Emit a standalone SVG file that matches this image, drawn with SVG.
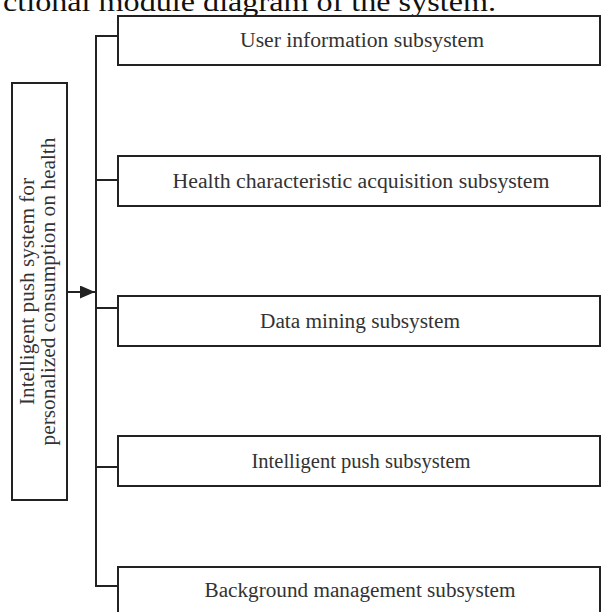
<svg xmlns="http://www.w3.org/2000/svg" width="602" height="612" viewBox="0 0 602 612">
<style>
.box{fill:#fff;stroke:#222;stroke-width:2}
.conn{fill:none;stroke:#222;stroke-width:2}
.lbl{font-family:"Liberation Serif","Times New Roman",serif;font-size:20px;fill:#333;text-anchor:middle}
.cap{font-family:"Liberation Serif","Times New Roman",serif;font-size:28px;fill:#111}
</style>
<defs>
<marker id="arr" markerWidth="15" markerHeight="13" refX="15" refY="6.5" orient="auto" markerUnits="userSpaceOnUse">
<path d="M0,0 L15,6.5 L0,13 Z" fill="#222"/>
</marker>
</defs>
<rect width="602" height="612" fill="#fff"/>
<text class="cap" x="3" y="11" textLength="493" lengthAdjust="spacingAndGlyphs">ctional module diagram of the system.</text>
<g id="connectors">
<path class="conn" d="M118,36 H96 V586 H118"/>
<path class="conn" d="M96,180 H118"/>
<path class="conn" d="M96,308 H118"/>
<path class="conn" d="M96,467 H118"/>
<path class="conn" d="M67,292 H95" marker-end="url(#arr)"/>
</g>
<g id="root">
<rect class="box" x="12" y="83" width="55" height="417"/>
<text class="lbl" transform="translate(33.5,291.5) rotate(-90)" x="0" y="0" textLength="227" lengthAdjust="spacingAndGlyphs">Intelligent push system for</text>
<text class="lbl" transform="translate(54.5,291.5) rotate(-90)" x="0" y="0" textLength="308" lengthAdjust="spacingAndGlyphs">personalized consumption on health</text>
</g>
<g id="n1">
<rect class="box" x="118" y="16" width="482" height="49"/>
<text class="lbl" x="362" y="47" textLength="244" lengthAdjust="spacingAndGlyphs">User information subsystem</text>
</g>
<g id="n2">
<rect class="box" x="118" y="156" width="482" height="50"/>
<text class="lbl" x="361" y="188" textLength="377" lengthAdjust="spacingAndGlyphs">Health characteristic acquisition subsystem</text>
</g>
<g id="n3">
<rect class="box" x="118" y="296" width="482" height="50"/>
<text class="lbl" x="360" y="328" textLength="200" lengthAdjust="spacingAndGlyphs">Data mining subsystem</text>
</g>
<g id="n4">
<rect class="box" x="118" y="436" width="482" height="50"/>
<text class="lbl" x="361" y="468" textLength="219" lengthAdjust="spacingAndGlyphs">Intelligent push subsystem</text>
</g>
<g id="n5">
<rect class="box" x="118" y="567" width="482" height="60"/>
<text class="lbl" x="360" y="597" textLength="311" lengthAdjust="spacingAndGlyphs">Background management subsystem</text>
</g>
</svg>
